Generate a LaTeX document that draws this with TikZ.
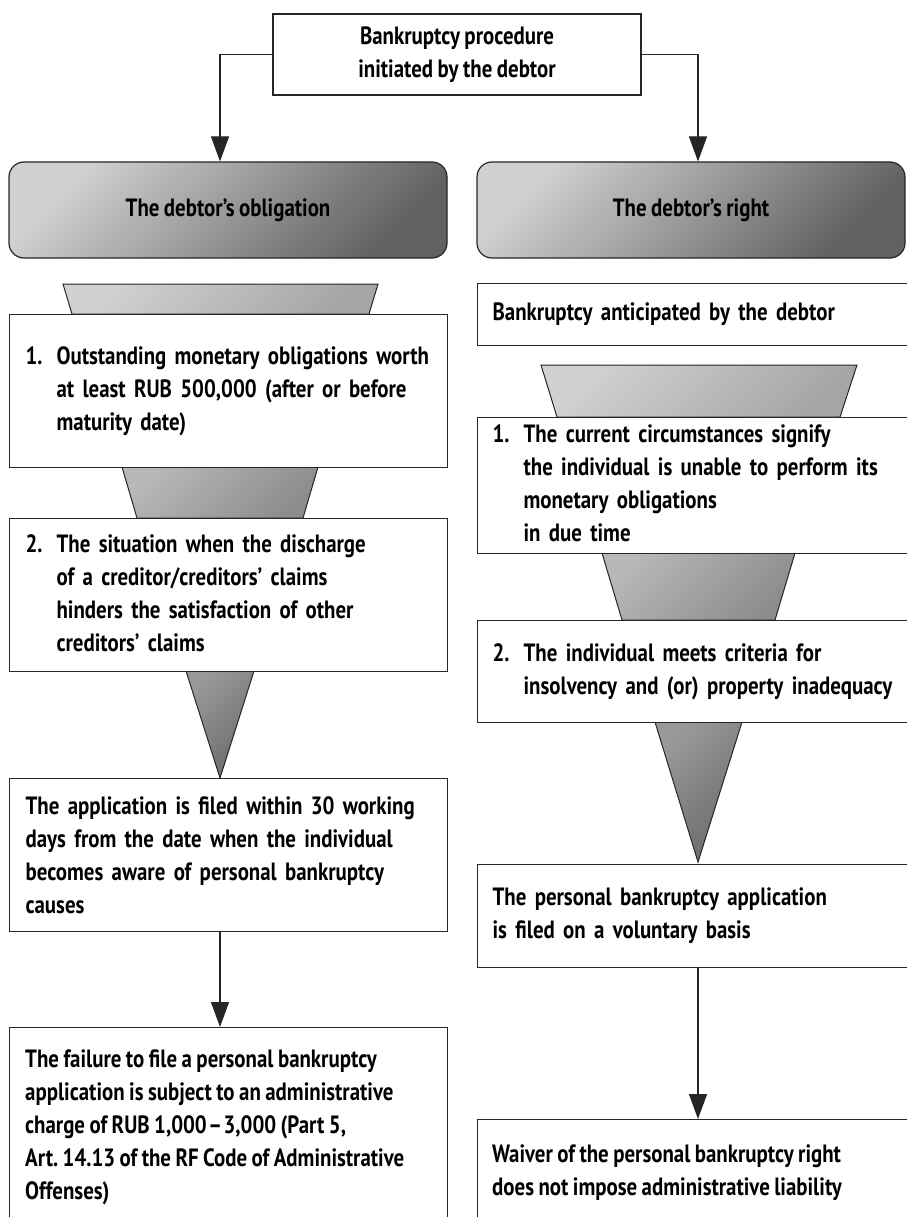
\documentclass[tikz,border=0pt]{standalone}
\usepackage{fontspec}
\setmainfont{PT Sans}[FakeStretch=0.835, WordSpace=0.85]
\usetikzlibrary{arrows.meta}
\tikzset{
  txt/.style={font=\fontsize{25pt}{33pt}\selectfont\bfseries},
  box/.style={txt, draw=black!85, line width=1.2pt, fill=white, inner sep=0pt, align=left},
  lbox/.style={box, anchor=north west, minimum width=438pt, text width=406pt},
  rbox/.style={box, anchor=north west, minimum width=453pt, text width=423pt},
  hdr/.style={txt, draw=black!85, line width=1.2pt, rounded corners=15pt, top color=black!18, bottom color=black!62, shading angle=45, align=center, minimum height=96pt},
  funA/.style={draw=black!85, line width=1pt, top color=black!18, bottom color=black!35, shading angle=45},
  funB/.style={draw=black!85, line width=1pt, top color=black!28, bottom color=black!45, shading angle=45},
  funC/.style={draw=black!85, line width=1pt, top color=black!40, bottom color=black!58, shading angle=45},
  arr/.style={draw=black!85, line width=1.2pt, -{Triangle[length=25pt,width=18pt]}}
}
\newcommand{\numitem}[2]{\begin{tabular}{@{}l@{}l@{}}\makebox[31pt][l]{#1}&#2\end{tabular}}
\begin{document}
\begin{tikzpicture}[x=1pt,y=-1pt]
\useasboundingbox (0,0) rectangle (906,1217);
\fill[white] (0,0) rectangle (906,1217);
\coordinate (aL) at (220,0);
\coordinate (aR) at (698,0);

% funnels (left)
\path[funA] (63,284) -- (378,284) -- (369,314) -- (72,314) -- cycle;
\path[funB] (122,467) -- (318,467) -- (303,518) -- (137,518) -- cycle;
\path[funC] (186,671) -- (254,671) -- (220,778) -- cycle;
% funnels (right)
\path[funA] (541,365) -- (857,365) -- (840,417) -- (557,417) -- cycle;
\path[funB] (602,553) -- (795,553) -- (775,620) -- (622,620) -- cycle;
\path[funC] (655,722) -- (742,722) -- (698,862) -- cycle;

% top
\node[box, align=center, minimum width=368pt, minimum height=81pt] (top) at (457,54.5) {Bankruptcy procedure\\initiated by the debtor};

% headers
\node[hdr, minimum width=438pt] (hL) at (228,210) {The debtor's obligation};
\node[hdr, minimum width=428pt] (hR) at (691,210) {The debtor's right};

% left column
\node[lbox, minimum height=153pt] (L1) at (9,314) {\numitem{1.}{Outstanding monetary obligations worth\\ & at least RUB 500,000 (after or before\\ & maturity date)}};
\node[lbox, minimum height=153pt] (L2) at (9,518) {\numitem{2.}{The situation when the discharge\\ & of a creditor/creditors' claims\\ & hinders the satisfaction of other\\ & creditors' claims}};
\node[lbox, minimum height=153pt] (L3) at (9,778) {The application is filed within 30 working\\days from the date when the individual\\becomes aware of personal bankruptcy\\causes};
\node[lbox, minimum height=230pt] (L4) at (9,1027) {};
\node[txt, anchor=north west, align=left, inner sep=0pt] (L4t) at (25,1050) {The failure to file a personal bankruptcy\\application is subject to an administrative\\charge of RUB 1,000\kern1.5pt–\kern1.5pt3,000 (Part 5,\\Art.~14.13 of the RF Code of Administrative\\Offenses)};

% right column
\node[rbox, minimum height=62pt] (R0) at (477,283) {Bankruptcy anticipated by the debtor};
\node[rbox, minimum height=136pt] (R1) at (477,417) {\numitem{1.}{The current circumstances signify\\ & the individual is unable to perform its\\ & monetary obligations\\ & in due time}};
\node[rbox, minimum height=102pt] (R2) at (477,620) {\numitem{2.}{The individual meets criteria for\\ & insolvency and (or) property inadequacy}};
\node[rbox, minimum height=103pt] (R3) at (477,864) {The personal bankruptcy application\\is filed on a voluntary basis};
\node[rbox, minimum height=130pt] (R4) at (477,1119) {};
\node[txt, anchor=north west, align=left, inner sep=0pt] (R4t) at (492,1145) {Waiver of the personal bankruptcy right\\does not impose administrative liability};

% connectors
\draw[arr] (top.west) -| (hL.north -| aL);
\draw[arr] (top.east) -| (hR.north -| aR);
\draw[arr] (L3.south -| aL) -- (L4.north -| aL);
\draw[arr] (R3.south -| aR) -- (R4.north -| aR);
\end{tikzpicture}
\end{document}
